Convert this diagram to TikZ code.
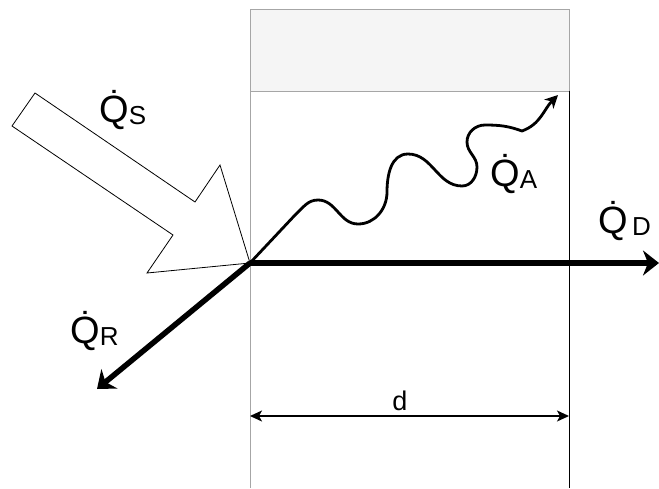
\documentclass[tikz,border=0pt]{standalone}
\usepackage{fontspec}
\setmainfont{Liberation Sans}
\usepackage{tikz}
\usetikzlibrary{arrows.meta}

\newcommand{\qflux}[1]{\.{Q}\raisebox{-2pt}{\fontsize{26}{28}\selectfont #1}}

\begin{document}
\begin{tikzpicture}[
    x=1pt, y=-1pt,
    wall/.style={line width=0.8pt},
    heat/.style={line width=5.5pt, -{Stealth[length=16pt, width=25pt, inset=5pt]}},
    wave/.style={line width=2.8pt, -{Stealth[length=13pt, width=13pt, inset=4pt]}},
    dim/.style={line width=1.4pt, {Stealth[length=12pt, width=11pt, inset=3pt]}-{Stealth[length=12pt, width=11pt, inset=3pt]}},
    lbl/.style={font=\fontsize{38}{40}\selectfont, inner sep=0pt, anchor=base west},
]

\useasboundingbox (0,0) rectangle (659,488);

\coordinate (O) at (250,263);
\coordinate (dEnd) at (659,263);
\coordinate (rEnd) at (97,389);
\coordinate (aEnd) at (558,95);
\coordinate (dl) at (250,416);
\coordinate (dr) at (569,416);

\draw[wall, draw=gray!70, fill=gray!8] (250,9) rectangle (569,91);
\draw[wall, draw=gray!70] (250,91) -- (250,488);
\draw[wall] (569,91) -- (569,488);

\draw[wall, fill=white] (35,93) -- (195,202) -- (220,165) -- (O) -- (147,273) -- (173,235) -- (12,126) -- cycle;

\draw[wave] (O) -- (296,214) to[out=42, in=180] (318,200) to[out=0, in=180] (358,224)
    to[out=0, in=-90] (387,192) to[out=90, in=180] (408,154)
    to[out=0, in=180] (462,186) to[out=0, in=-90] (477,167)
    to[out=90, in=-90] (467,142) to[out=90, in=180] (485,125)
    to[out=0, in=160] (522,131) to[out=20, in=225] (aEnd);

\draw[heat] (O) -- (dEnd);
\draw[heat] (O) -- (rEnd);

\draw[dim] (dl) -- (dr);
\node[font=\fontsize{27}{29}\selectfont, inner sep=0pt, anchor=base] (dlab) at (400,410) {d};

\node[lbl] (qs) at (99,122) {\qflux{S}};
\node[lbl] (qa) at (490,186) {\qflux{A}};
\node[lbl] (qd) at (598,233) {\qflux{\,D}};
\node[lbl] (qr) at (70,343) {\qflux{R}};

\end{tikzpicture}
\end{document}
